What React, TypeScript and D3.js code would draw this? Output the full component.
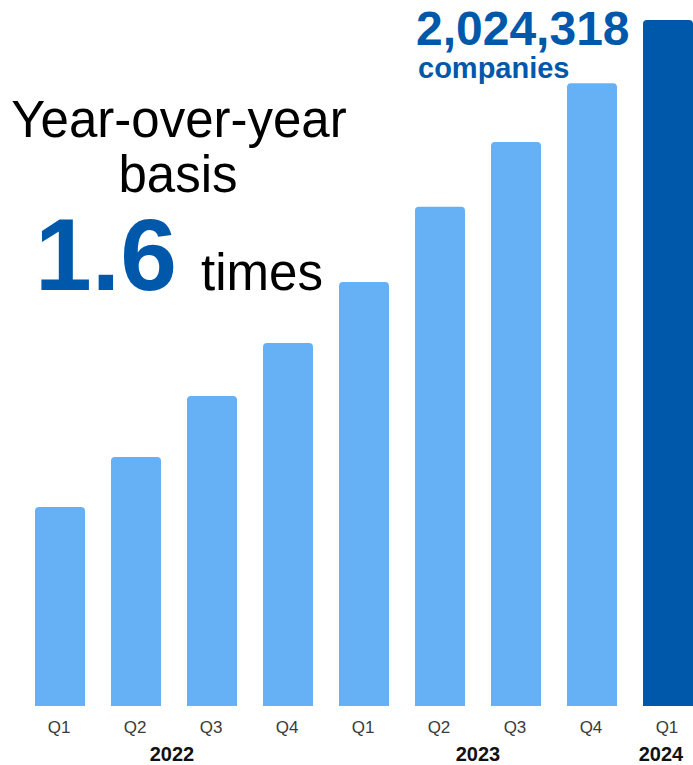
import React from "react";
import * as d3 from "d3";

const quarters = ["Q1", "Q2", "Q3", "Q4", "Q1", "Q2", "Q3", "Q4", "Q1"];
const values = [587000, 735000, 915000, 1071000, 1251000, 1473000, 1664000, 1838000, 2024318];
const years = [
  { label: "2022", from: 0, to: 3 },
  { label: "2023", from: 4, to: 7 },
  { label: "2024", from: 8, to: 8 },
];

const W = 693;
const H = 765;
const LIGHT = "#66B0F5";
const DARK = "#0058AB";
const FONT = "'Liberation Sans', Arial, sans-serif";

function barPath(x: number, y: number, w: number, h: number, r: number) {
  const p = d3.path();
  p.moveTo(x, y + h);
  p.lineTo(x, y + r);
  p.quadraticCurveTo(x, y, x + r, y);
  p.lineTo(x + w - r, y);
  p.quadraticCurveTo(x + w, y, x + w, y + r);
  p.lineTo(x + w, y + h);
  p.closePath();
  return p.toString();
}

export default function App() {
  const idx = quarters.map((_, i) => i);
  const x = d3.scaleBand<number>().domain(idx).range([35, 693]).paddingInner(0.342).paddingOuter(0);
  const y = d3.scaleLinear().domain([0, d3.max(values) as number]).range([706, 20]);
  const bw = x.bandwidth();
  const fmt = d3.format(",");
  const last = values[values.length - 1];

  return (
    <svg
      width={W}
      height={H}
      style={{ position: "absolute", left: 0, top: 0, background: "#fff" }}
      fontFamily={FONT}
    >
      {values.map((v, i) => (
        <path
          key={i}
          d={barPath(x(i) as number, y(v), bw, y(0) - y(v), 4)}
          fill={i === values.length - 1 ? DARK : LIGHT}
        />
      ))}
      {quarters.map((q, i) => (
        <text
          key={i}
          x={(x(i) as number) + bw / 2 - 1}
          y={733}
          textAnchor="middle"
          fontSize={17}
          fill="#3a3a3a"
        >
          {q}
        </text>
      ))}
      {years.map((yr, i) => {
        const cx = i === 2
          ? (x(yr.from) as number) + bw / 2 - 7
          : ((x(yr.from) as number) + (x(yr.to) as number) + bw) / 2 + (i === 0 ? -2 : 0);
        return (
          <text key={i} x={cx} y={761} textAnchor="middle" fontSize={20} fontWeight="bold" fill="#111">
            {yr.label}
          </text>
        );
      })}
      <text x={179} y={137} textAnchor="middle" fontSize={51} fill="#000">Year-over-year</text>
      <text x={178} y={192} textAnchor="middle" fontSize={51} fill="#000">basis</text>
      <text x={106} y={290} textAnchor="middle" fontSize={102} fontWeight="bold" fill={DARK}>1.6</text>
      <text x={262} y={290} textAnchor="middle" fontSize={51} fill="#000">times</text>
      <text x={416} y={45} fontSize={48} fontWeight="bold" fill={DARK}>{fmt(last)}</text>
      <text x={418} y={78} fontSize={29} fontWeight="bold" fill={DARK}>companies</text>
    </svg>
  );
}
